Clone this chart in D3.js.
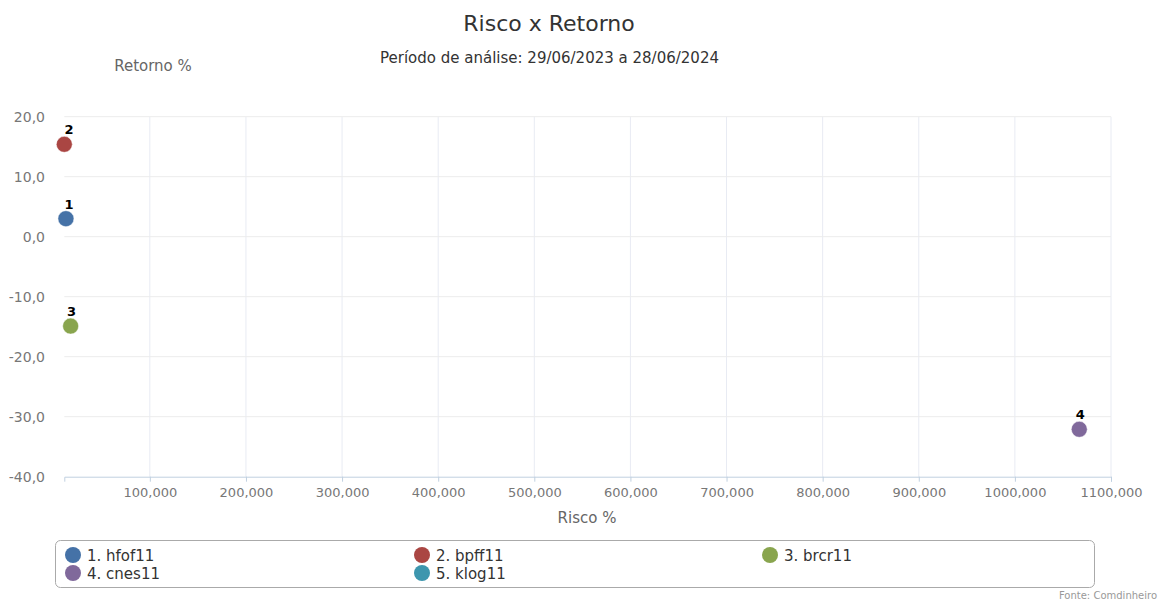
<!DOCTYPE html>
<html>
<head>
<meta charset="utf-8">
<script src="https://cdn.jsdelivr.net/npm/d3@7"></script>
<style>
  body { margin: 0; background: #fff; }
  svg { font-family: "DejaVu Sans", sans-serif; }
</style>
</head>
<body>
<div id="vis"></div>
<script>
const names = ["1. hfof11", "2. bpff11", "3. brcr11", "4. cnes11", "5. klog11"];
const labels = ["1", "2", "3", "4", null];
const risco = [12.7, 11, 17.6, 1067, null];
const retorno = [3.0, 15.4, -14.9, -32.1, null];
const colors = ["#4572A7", "#AA4643", "#89A54E", "#80699B", "#3D96AE"];
const xTicks = [100, 200, 300, 400, 500, 600, 700, 800, 900, 1000, 1100];
const yTicks = [20, 10, 0, -10, -20, -30, -40];

const w = 1160, h = 600;
const svg = d3.select("#vis").append("svg").attr("width", w).attr("height", h);

const x = d3.scaleLinear().domain([11, 1100]).range([64.3, 1111]);
const y = d3.scaleLinear().domain([-40, 20]).range([476.7, 116.7]);

const fmtX = v => d3.format(".3f")(v).replace(".", ",").replace("−", "-");
const fmtY = v => d3.format(".1f")(v).replace(".", ",").replace("−", "-");

// grid
svg.append("g").selectAll("line").data(xTicks).join("line")
  .attr("x1", d => x(d)).attr("x2", d => x(d))
  .attr("y1", y(20)).attr("y2", y(-40))
  .attr("stroke", "#e8ebf3").attr("stroke-width", 1);
svg.append("g").selectAll("line").data(yTicks.filter(d => d !== -40)).join("line")
  .attr("x1", x.range()[0]).attr("x2", x.range()[1])
  .attr("y1", d => y(d)).attr("y2", d => y(d))
  .attr("stroke", "#ececec").attr("stroke-width", 1);

// x axis
const xAxis = svg.append("g").attr("transform", `translate(0,${y(-40)})`)
  .call(d3.axisBottom(x).tickValues(xTicks).tickFormat(fmtX).tickSize(5).tickPadding(6));
xAxis.select(".domain").attr("stroke", "#c0d0e0");
xAxis.selectAll(".tick line").attr("stroke", "#c0d0e0");
xAxis.selectAll("text").attr("fill", "#777").attr("font-size", 13).attr("font-family", "DejaVu Sans");

// y axis labels
svg.append("g").selectAll("text").data(yTicks).join("text")
  .attr("x", 45).attr("y", d => y(d) + 5)
  .attr("text-anchor", "end").attr("fill", "#777").attr("font-size", 14)
  .text(fmtY);

// titles
svg.append("text").attr("x", 549).attr("y", 31).attr("text-anchor", "middle")
  .attr("font-size", 22).attr("fill", "#333").text("Risco x Retorno");
svg.append("text").attr("x", 549.5).attr("y", 63).attr("text-anchor", "middle")
  .attr("font-size", 15).attr("fill", "#333").text("Período de análise: 29/06/2023 a 28/06/2024");
svg.append("text").attr("x", 153).attr("y", 71).attr("text-anchor", "middle")
  .attr("font-size", 15).attr("fill", "#666").text("Retorno %");
svg.append("text").attr("x", 587).attr("y", 523).attr("text-anchor", "middle")
  .attr("font-size", 15).attr("fill", "#666").text("Risco %");

// points
const pts = d3.range(names.length).filter(i => risco[i] != null);
svg.append("g").selectAll("circle").data(pts).join("circle")
  .attr("cx", i => x(risco[i])).attr("cy", i => y(retorno[i])).attr("r", 8)
  .attr("fill", i => colors[i]).attr("stroke", "#fff").attr("stroke-width", 0.5);
svg.append("g").selectAll("text").data(pts).join("text")
  .attr("x", i => Math.max(x(risco[i]) + 1, 69)).attr("y", i => y(retorno[i]) - 10)
  .attr("text-anchor", "middle").attr("font-size", 13).attr("font-weight", "bold")
  .attr("fill", "#000").text(i => labels[i]);

// legend
svg.append("rect").attr("x", 55.5).attr("y", 540.5).attr("width", 1039).attr("height", 47)
  .attr("rx", 5).attr("fill", "#fff").attr("stroke", "#aaa").attr("stroke-width", 1);
const colX = [73, 422, 770];
const leg = svg.append("g").selectAll("g").data(names).join("g")
  .attr("transform", (d, i) => `translate(${colX[i % 3]},${555 + Math.floor(i / 3) * 18})`);
leg.append("circle").attr("r", 8).attr("fill", (d, i) => colors[i]);
leg.append("text").attr("x", 14).attr("y", 5.5).attr("font-size", 15).attr("fill", "#333").text(d => d);

svg.append("text").attr("x", 1157).attr("y", 599).attr("text-anchor", "end")
  .attr("font-size", 10).attr("fill", "#999").text("Fonte: Comdinheiro");
</script>
</body>
</html>
